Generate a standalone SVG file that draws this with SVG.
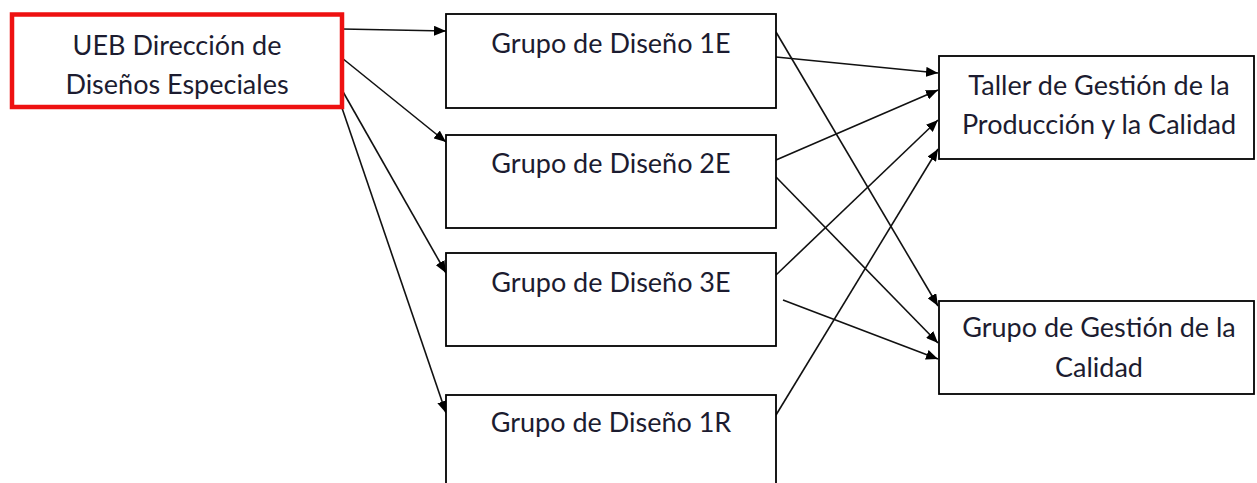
<svg xmlns="http://www.w3.org/2000/svg" width="1257" height="483" viewBox="0 0 1257 483">
  <style>
    .box { fill: #fff; stroke: #000; stroke-width: 1.8; }
    .main { fill: #fff; stroke: #ee1111; stroke-width: 4.5; }
    .lbl { font-family: Lato, "Open Sans", sans-serif; font-size: 27px; fill: #1c1c30; text-anchor: middle; }
    .edge { fill: none; stroke: #111; stroke-width: 1.6; marker-end: url(#arrow); }
  </style>
  <defs>
    <marker id="arrow" viewBox="0 0 12 10" refX="12" refY="5" markerWidth="12" markerHeight="10" markerUnits="userSpaceOnUse" orient="auto">
      <path d="M0,0 L12,5 L0,10 Z" fill="#000"/>
    </marker>
  </defs>
  <rect width="1257" height="483" fill="#fff"/>

  <g id="connectors">
    <!-- from the UEB box to each design group -->
    <line class="edge" x1="342" y1="29" x2="446" y2="31"/>
    <line class="edge" x1="342" y1="58" x2="446" y2="142"/>
    <line class="edge" x1="342" y1="90" x2="446" y2="273"/>
    <line class="edge" x1="342" y1="108" x2="446" y2="413"/>
    <!-- from the design groups to the quality units -->
    <line class="edge" x1="776" y1="57" x2="938" y2="73"/>
    <line class="edge" x1="776" y1="32" x2="938" y2="306"/>
    <line class="edge" x1="776" y1="160" x2="938" y2="90"/>
    <line class="edge" x1="776" y1="177" x2="938" y2="343"/>
    <line class="edge" x1="776" y1="275" x2="938" y2="120"/>
    <line class="edge" x1="783" y1="300" x2="938" y2="359"/>
    <line class="edge" x1="776" y1="415" x2="938" y2="149"/>
  </g>

  <g id="ueb">
    <rect class="main" x="12" y="14.5" width="330" height="92.5"/>
    <text class="lbl" x="177" y="55">UEB Dirección de</text>
    <text class="lbl" x="177" y="94">Diseños Especiales</text>
  </g>

  <g id="grupo-1e">
    <rect class="box" x="446" y="14" width="330" height="94"/>
    <text class="lbl" x="611" y="53">Grupo de Diseño 1E</text>
  </g>

  <g id="grupo-2e">
    <rect class="box" x="446" y="135" width="330" height="93"/>
    <text class="lbl" x="611" y="173">Grupo de Diseño 2E</text>
  </g>

  <g id="grupo-3e">
    <rect class="box" x="446" y="253" width="330" height="93"/>
    <text class="lbl" x="611" y="292">Grupo de Diseño 3E</text>
  </g>

  <g id="grupo-1r">
    <rect class="box" x="446" y="395" width="330" height="100"/>
    <text class="lbl" x="611" y="432">Grupo de Diseño 1R</text>
  </g>

  <g id="taller">
    <rect class="box" x="939" y="56" width="315" height="103"/>
    <text class="lbl" x="1099" y="95">Taller de Gestión de la</text>
    <text class="lbl" x="1099" y="134">Producción y la Calidad</text>
  </g>

  <g id="gestion-calidad">
    <rect class="box" x="939" y="301" width="315" height="93"/>
    <text class="lbl" x="1099" y="337">Grupo de Gestión de la</text>
    <text class="lbl" x="1099" y="377">Calidad</text>
  </g>
</svg>
